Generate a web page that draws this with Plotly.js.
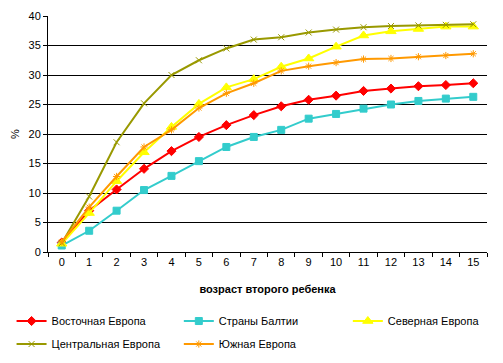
<!DOCTYPE html>
<html><head><meta charset="utf-8">
<script src="https://cdn.plot.ly/plotly-3.0.1.min.js"></script>
<style>html,body{margin:0;padding:0;background:#fff}#c{width:503px;height:363px}</style>
</head><body><div id="c"></div>
<script>
const ages = ['0','1','2','3','4','5','6','7','8','9','10','11','12','13','14','15'];
const eastern  = [1.6, 7.0, 10.6, 14.1, 17.1, 19.5, 21.5, 23.2, 24.7, 25.8, 26.5, 27.3, 27.7, 28.1, 28.3, 28.6];
const baltic   = [1.1, 3.6, 7.0, 10.5, 12.9, 15.4, 17.8, 19.5, 20.7, 22.6, 23.4, 24.3, 25.0, 25.6, 26.0, 26.3];
const northern = [1.4, 6.6, 12.0, 16.9, 21.2, 25.1, 27.9, 29.3, 31.4, 32.8, 34.8, 36.7, 37.4, 37.8, 38.2, 38.2];
const central  = [1.5, 9.4, 18.6, 25.2, 30.0, 32.5, 34.5, 36.0, 36.4, 37.2, 37.7, 38.1, 38.3, 38.4, 38.5, 38.6];
const southern = [1.7, 7.6, 12.8, 17.8, 20.7, 24.4, 26.9, 28.6, 30.7, 31.5, 32.1, 32.7, 32.8, 33.1, 33.3, 33.6];
const names = ['Восточная Европа','Страны Балтии','Северная Европа','Центральная Европа','Южная Европа'];

const mk = (y, name, color, symbol, size, leg, grp) => ({
  x: ages, y: y, name: name, type: 'scatter', mode: 'lines+markers',
  legend: leg, legendgroup: grp,
  line: {color: color, width: 2},
  marker: {color: color, symbol: symbol, size: size, line: {color: color, width: 1}}
});
const data = [
  mk(eastern, names[0], '#FF0000', 'diamond', 7, 'legend', 'a'),
  mk(baltic, names[1], '#33CCCC', 'square', 7, 'legend2', 'b'),
  mk(northern, names[2], '#FFFF00', 'triangle-up', 9, 'legend3', 'c'),
  mk(central, names[3], '#999900', 'x-thin-open', 6, 'legend', 'd'),
  mk(southern, names[4], '#FF9900', 'asterisk-open', 6, 'legend2', 'e')
];
const legBase = (x) => ({
  orientation: 'v', x: x, xanchor: 'left', y: -0.231, yanchor: 'top',
  font: {size: 11}, bgcolor: 'rgba(0,0,0,0)', traceorder: 'grouped', tracegroupgap: 4
});
const layout = {
  width: 503, height: 363,
  margin: {l: 48, r: 16, t: 16, b: 111, autoexpand: false},
  paper_bgcolor: '#fff', plot_bgcolor: '#fff',
  font: {family: 'Liberation Sans, Arial, sans-serif', size: 11, color: '#000'},
  showlegend: true,
  xaxis: {
    type: 'category', tickson: 'boundaries', ticks: 'outside', ticklen: 4, tickcolor: '#000',
    showline: true, linecolor: '#000', linewidth: 1, showgrid: false, zeroline: false,
    range: [-0.5, 15.5], fixedrange: true,
    title: {text: '<b>возраст второго ребенка</b>', font: {size: 11}, standoff: 18}
  },
  yaxis: {
    range: [0, 40], dtick: 5, ticks: 'outside', ticklen: 4, tickcolor: '#000',
    showline: true, linecolor: '#000', linewidth: 1,
    showgrid: true, gridcolor: '#000', gridwidth: 1, zeroline: false,
    title: {text: '%', font: {size: 11}, standoff: 6}
  },
  legend: legBase(-0.083),
  legend2: legBase(0.298),
  legend3: legBase(0.683)
};
Plotly.newPlot('c', data, layout, {staticPlot: true});
</script></body></html>
